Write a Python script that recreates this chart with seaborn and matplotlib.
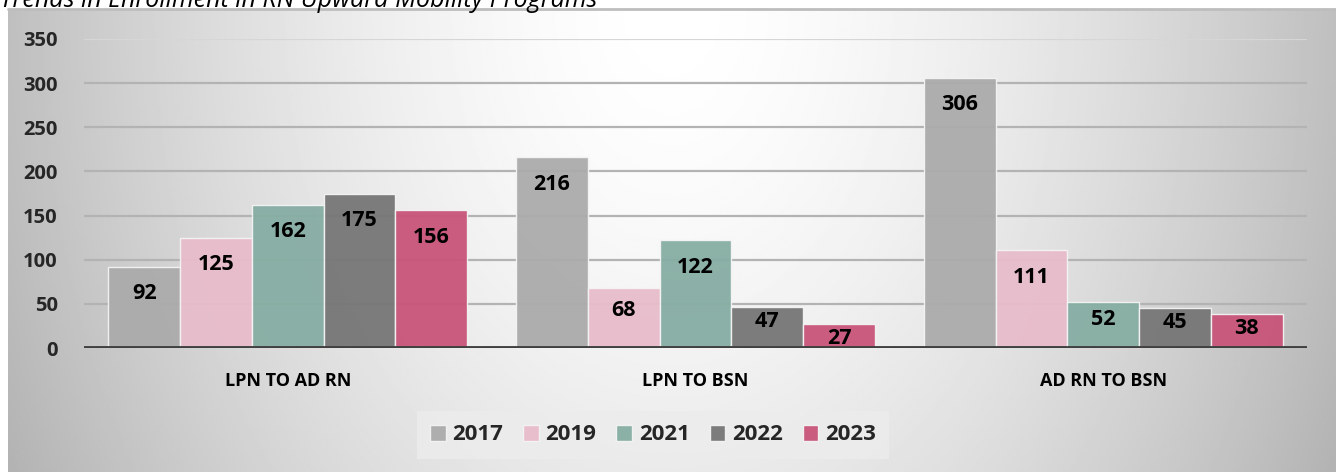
import numpy as np
import pandas as pd
import matplotlib.pyplot as plt
import seaborn as sns

# data
programs = ["LPN TO AD RN", "LPN TO BSN", "AD RN TO BSN"]
years = ["2017", "2019", "2021", "2022", "2023"]
enroll_2017 = [92, 216, 306]
enroll_2019 = [125, 68, 111]
enroll_2021 = [162, 122, 52]
enroll_2022 = [175, 47, 45]
enroll_2023 = [156, 27, 38]
yticks = [0, 50, 100, 150, 200, 250, 300, 350]

colors = ["#ababab", "#e8bccb", "#86ada3", "#767676", "#c85479"]

rows = []
for yr, vals in zip(years, [enroll_2017, enroll_2019, enroll_2021, enroll_2022, enroll_2023]):
    for p, v in zip(programs, vals):
        rows.append({"program": p, "year": yr, "value": v})
df = pd.DataFrame(rows)

sns.set_theme(style="white")
plt.rcParams["font.family"] = ["Open Sans", "DejaVu Sans"]

W, H = 1336, 472
DPI = 100
fig = plt.figure(figsize=(W / DPI, H / DPI), dpi=DPI)
fig.patch.set_facecolor("white")

# gradient background panel (radial, light in the upper middle)
bg = fig.add_axes([8 / W, 0, 1 - 8 / W, (H - 9) / H], zorder=0)
gx, gy = np.meshgrid(np.linspace(-1, 1, 600), np.linspace(0, 1, 220))
r = np.sqrt((gx / 1.0) ** 2 + (gy / 2.0) ** 2)
shade = 1.0 - 0.25 * np.clip(r, 0, 1.2) ** 1.6
bg.imshow(shade, cmap="gray", vmin=0, vmax=1, aspect="auto", extent=[0, 1, 0, 1], origin="upper")
bg.plot([0, 1], [1, 1], color="#bdbdbd", lw=2, transform=bg.transAxes, clip_on=False)
bg.set_axis_off()

ax = fig.add_axes([84 / W, 1 - 348 / H, (1307 - 84) / W, (348 - 39) / H], zorder=1)
ax.patch.set_alpha(0)

for y in yticks[1:]:
    ax.axhline(y, color="#b3b3b3" if y < 350 else "#d6d6d6", lw=1.6, zorder=0)

sns.barplot(data=df, x="program", y="value", hue="year", palette=colors, saturation=1,
            width=0.88, gap=0, ax=ax, alpha=0.95, edgecolor="#f4f4f4", linewidth=1,
            zorder=2, legend=True)

ax.set_ylim(0, 350)
ax.set_xlim(-0.5, 2.5)

# data labels "inside end"; short bars get the label pulled closer to the top
px_per_unit = ax.transData.transform((0, 1))[1] - ax.transData.transform((0, 0))[1]
for cont in ax.containers:
    for bar, v in zip(cont, cont.datavalues):
        h_px = v * px_per_unit
        off_px = min(27, max(0.37 * h_px, 14))
        ax.annotate(f"{int(v)}", xy=(bar.get_x() + bar.get_width() / 2, v),
                    xytext=(0, -off_px * 72 / DPI), textcoords="offset points",
                    ha="center", va="center", fontsize=15.5, fontweight="bold",
                    color="black", zorder=4)

ax.axhline(0, color="#404040", lw=3.5, zorder=3)
ax.set_yticks(yticks)
ax.set_yticklabels([str(t) for t in yticks], fontsize=14.5, fontweight="bold")
ax.tick_params(axis="y", length=0, pad=19)
ax.tick_params(axis="x", length=0, pad=17, labelsize=13, labelcolor="black")
for lab in ax.get_xticklabels():
    lab.set_fontweight("bold")
ax.set_xlabel("")
ax.set_ylabel("")
sns.despine(ax=ax, left=True, bottom=True)

handles, labels = ax.get_legend_handles_labels()
ax.legend(handles, labels, loc="center", bbox_to_anchor=(653 / W, 1 - 435 / H),
          bbox_transform=fig.transFigure, ncol=5, frameon=True, fancybox=False,
          facecolor="#ececec", edgecolor="none", framealpha=0.85,
          prop={"weight": "bold", "size": 16}, handlelength=0.7, handleheight=0.7,
          handletextpad=0.3, columnspacing=0.9, borderpad=0.6)

fig.text(0.0, 1 - 7 / H, "Trends in Enrollment in RN Upward Mobility Programs",
         fontsize=18, style="italic", va="baseline", ha="left", color="black")

fig.savefig("out.png", dpi=DPI)
